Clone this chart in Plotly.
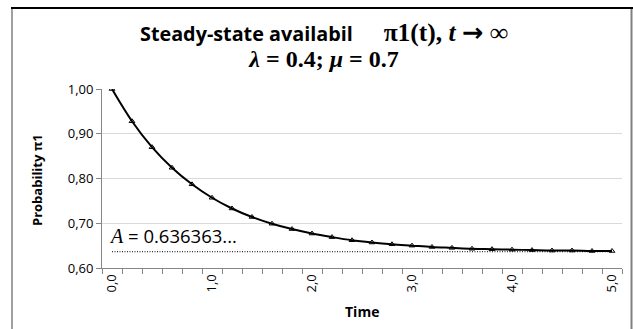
import plotly.graph_objects as go

time_labels = ["0,0", "0,2", "0,4", "0,6", "0,8", "1,0", "1,2", "1,4", "1,6", "1,8",
               "2,0", "2,2", "2,4", "2,6", "2,8", "3,0", "3,2", "3,4", "3,6", "3,8",
               "4,0", "4,2", "4,4", "4,6", "4,8", "5,0"]
pi1_values = [1.000, 0.928, 0.870, 0.824, 0.787, 0.757, 0.733, 0.714, 0.699, 0.687,
              0.677, 0.669, 0.662, 0.657, 0.653, 0.650, 0.647, 0.645, 0.643, 0.642,
              0.641, 0.640, 0.639, 0.639, 0.638, 0.638]
steady_state = 0.636363
shown_time_labels = ["0,0", "1,0", "2,0", "3,0", "4,0", "5,0"]
y_ticks = [0.60, 0.70, 0.80, 0.90, 1.00]
y_tick_text = ["0,60", "0,70", "0,80", "0,90", "1,00"]

W, H = 633, 329
L, R, T, B = 102, 11, 89, 61
pw = W - L - R
ph = H - T - B

def px_x(p):
    return (p - L) / pw

def px_y(p):
    return (H - B - p) / ph

fig = go.Figure()
fig.add_trace(go.Scatter(
    x=time_labels, y=[steady_state] * len(time_labels), mode="lines",
    line=dict(color="black", width=1, dash="1px,1.5px"), hoverinfo="skip", showlegend=False))
fig.add_trace(go.Scatter(
    x=time_labels, y=pi1_values, mode="lines+markers",
    line=dict(color="black", width=2, shape="spline", smoothing=1),
    marker=dict(symbol="triangle-up-open", size=5, color="black", line=dict(width=1, color="black")),
    showlegend=False))

serif = "Liberation Serif, Times New Roman, serif"
sans = "Open Sans, Lato, sans-serif"

title = ("<b>Steady-state availabil" + "\u00a0" * 6 + "</b>"
         f"<span style='font-family:{serif};font-size:25.5px'><b>π1(t), <i>t</i> "
         f"<span style='font-family:DejaVu Sans'>→</span> ∞</b></span><br>"
         f"<span style='font-family:{serif};font-size:24px'><b><i>λ</i> = 0.4; <i>μ</i> = 0.7</b></span>")

fig.update_layout(
    width=W, height=H,
    margin=dict(l=L, r=R, t=T, b=B, autoexpand=False),
    paper_bgcolor="white", plot_bgcolor="white",
    font=dict(family=sans, color="black", size=13),
    title=dict(text=title, x=324 / W, xanchor="center", y=1 - 41 / H, yanchor="middle",
               font=dict(family=sans, size=19.8, color="black")),
    xaxis=dict(
        type="category", tickmode="array", tickvals=time_labels,
        ticktext=[t if t in shown_time_labels else "" for t in time_labels],
        tickson="boundaries", ticks="outside", ticklen=5, tickcolor="#868686",
        tickangle=-90, showgrid=False, showline=True, linecolor="#868686", linewidth=1,
        range=[-0.5, len(time_labels) - 0.5], zeroline=False, automargin=False,
        tickfont=dict(size=13)),
    yaxis=dict(
        range=[0.6, 1.0], tickmode="array", tickvals=y_ticks, ticktext=y_tick_text,
        ticks="outside", ticklen=5, tickcolor="#868686",
        showgrid=True, gridcolor="#d9d9d9", gridwidth=1,
        showline=True, linecolor="#868686", linewidth=1, zeroline=False, automargin=False,
        tickfont=dict(size=13)),
)

fig.add_annotation(
    xref="paper", yref="paper", x=px_x(362), y=px_y(311), xanchor="center", yanchor="middle",
    text="<b>Time</b>", showarrow=False, font=dict(size=14, family=sans, color="black"))
fig.add_annotation(
    xref="paper", yref="paper", x=px_x(37), y=px_y(180), xanchor="center", yanchor="middle",
    text="<b>Probability π1</b>", textangle=-90, showarrow=False,
    font=dict(size=13, family=sans, color="black"))

fig.add_annotation(
    xref="paper", yref="paper", x=px_x(107), y=px_y(235), xanchor="left", yanchor="middle",
    text=f"<span style='font-family:{serif};font-size:20px'><i>A</i></span> = 0.636363...",
    showarrow=False, font=dict(size=18.5, family=sans, color="black"))

fig.add_shape(type="line", xref="paper", yref="paper",
              x0=px_x(11), x1=px_x(633), y0=px_y(8), y1=px_y(8),
              line=dict(color="black", width=2))
fig.add_shape(type="line", xref="paper", yref="paper",
              x0=px_x(12), x1=px_x(12), y0=px_y(9), y1=px_y(340),
              line=dict(color="#808080", width=1.5))
fig.add_shape(type="line", xref="paper", yref="paper",
              x0=px_x(631.5), x1=px_x(631.5), y0=px_y(9), y1=px_y(340),
              line=dict(color="#808080", width=2))

fig.write_html("out.html", config={"displayModeBar": False},
               post_script="document.body.style.margin='0';document.body.style.overflow='hidden';")
